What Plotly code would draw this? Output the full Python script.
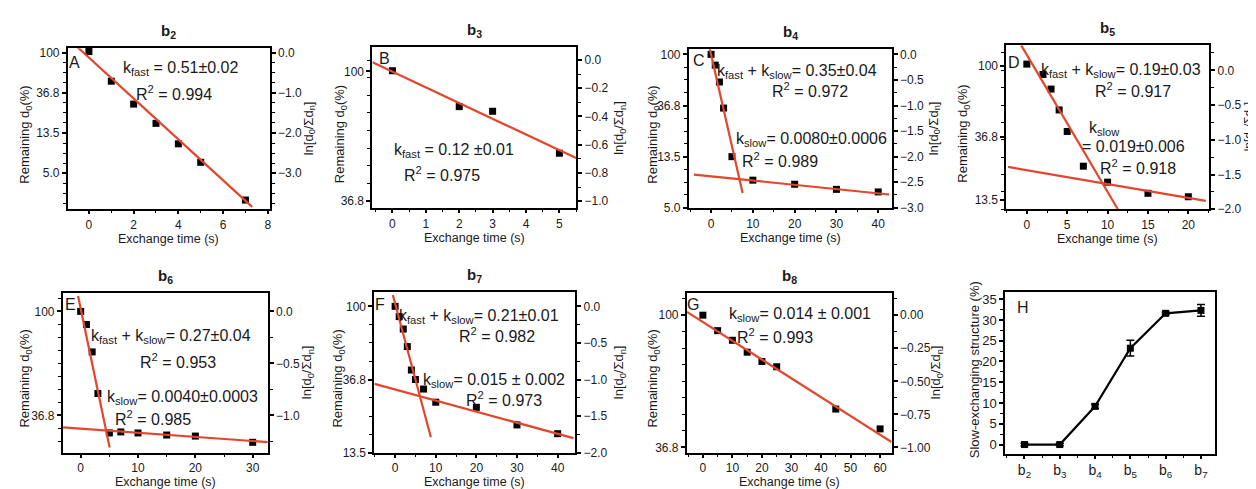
import plotly.graph_objects as go

W, H = 1256, 489

# ---------------- data (ln[d0/Σdn] vs exchange time) ----------------
a_t = [0, 1, 2, 3, 4, 5, 7]
a_ln = [0.03, -0.71, -1.28, -1.76, -2.27, -2.73, -3.67]
a_fit_t = [-0.75, 7.3]
a_fit_ln = [0.26, -3.84]

b_t = [0, 2, 3, 5]
b_ln = [-0.076, -0.33, -0.363, -0.66]
b_fit_t = [-0.6, 5.5]
b_fit_ln = [-0.016, -0.694]

c_t = [0, 1, 2, 3, 5, 10, 20, 30, 40]
c_ln = [0.0, -0.21, -0.54, -1.05, -2.0, -2.46, -2.54, -2.64, -2.69]
c_fast_t = [-0.56, 7.55]
c_fast_ln = [0.2, -2.71]
c_slow_t = [-4.1, 42.6]
c_slow_ln = [-2.35, -2.74]

d_t = [0, 2, 3, 4, 5, 7, 10, 15, 20]
d_ln = [0.09, -0.06, -0.27, -0.57, -0.88, -1.38, -1.61, -1.77, -1.82]
d_fast_t = [-0.69, 11.27]
d_fast_ln = [0.36, -2.0]
d_slow_t = [-2.33, 22.16]
d_slow_ln = [-1.39, -1.88]

e_t = [0, 1, 2, 3, 5, 7, 10, 15, 20, 30]
e_ln = [0.0, -0.126, -0.39, -0.79, -1.17, -1.16, -1.17, -1.19, -1.20, -1.26]
e_fast_t = [-0.46, 5.05]
e_fast_ln = [0.148, -1.31]
e_slow_t = [-3.08, 33.2]
e_slow_ln = [-1.116, -1.26]

f_t = [0, 1, 2, 3, 4, 5, 7, 10, 20, 30, 40]
f_ln = [0.0, -0.14, -0.31, -0.55, -0.87, -1.0, -1.13, -1.31, -1.38, -1.62, -1.74]
f_fast_t = [-0.57, 8.8]
f_fast_ln = [0.155, -1.79]
f_slow_t = [-5.06, 43.9]
f_slow_ln = [-1.06, -1.80]

g_t = [0, 5, 10, 15, 20, 25, 45, 60]
g_ln = [0.0, -0.117, -0.19, -0.28, -0.35, -0.39, -0.71, -0.86]
g_fit_t = [-5.4, 63.9]
g_fit_ln = [0.025, -0.96]

h_cats = ["b<sub>2</sub>", "b<sub>3</sub>", "b<sub>4</sub>", "b<sub>5</sub>", "b<sub>6</sub>", "b<sub>7</sub>"]
h_slow = [0, 0, 9.2, 23.2, 31.6, 32.3]
h_err = [0.3, 0.3, 0.5, 1.9, 0.3, 1.4]

titles = ["b<sub>2</sub>", "b<sub>3</sub>", "b<sub>4</sub>", "b<sub>5</sub>",
          "b<sub>6</sub>", "b<sub>7</sub>", "b<sub>8</sub>"]
left_labels = ["100", "36.8", "13.5", "5.0"]

# ---------------- layout / style ----------------
FONT = "Liberation Sans, Arial, sans-serif"
RED = "#e2462c"
INK = "#1a1a1a"

# frame boxes in pixels: x0, x1, y0(top), y1(bottom)
boxes = [
    (60, 262, 39, 203), (365, 569, 38, 202), (682, 885, 40, 202), (1000, 1203, 36, 203),
    (55, 260, 288, 451), (367, 568, 287, 451), (680, 885, 288, 451), (999, 1209, 287, 452),
]
xranges = [[-0.94, 8.08], [-0.6, 5.5], [-5.3, 43.2], [-2.53, 22.57],
           [-3.1, 32.6], [-5.1, 44.3], [-5.4, 63.9], [-0.54, 5.4]]
yranges = [[-3.9, 0.11], [-1.05, 0.09], [-3.01, 0.1], [-2.0, 0.36],
           [-1.36, 0.18], [-2.0, 0.2], [-1.04, 0.17], [-2.2, 36.8]]
xdt = [2, 1, 10, 5, 10, 10, 10]
left_tickvals = [[0, -1, -2, -3], [-0.08, -1.0], [0, -1, -2, -3], [0.06, -0.96, -1.86],
                 [0, -1], [0, -1, -2], [0, -1]]
left_ticktext = [left_labels[:4], ["100", "36.8"], left_labels[:4], left_labels[:3],
                 ["100", "36.8"], left_labels[:3], ["100", "36.8"]]
right_dt = [1.0, 0.2, 0.5, 0.5, 0.5, 0.5, 0.25]
right_fmt = [".1f", ".1f", ".1f", ".1f", ".1f", ".1f", ".2f"]


def aid(letter, n):
    return letter if n == 1 else "%s%d" % (letter, n)


def px(x, y):
    return x / W, 1 - y / H


fig = go.Figure()
layout = dict(
    width=W, height=H, margin=dict(l=0, r=0, t=0, b=0),
    paper_bgcolor="white", plot_bgcolor="white", showlegend=False,
    font=dict(family=FONT, color=INK, size=12),
)

tickfont = dict(family=FONT, size=12, color=INK)
for i in range(8):
    x0, x1, y0, y1 = boxes[i]
    dx = [x0 / W, x1 / W]
    dy = [1 - y1 / H, 1 - y0 / H]
    n = i + 1
    xa = dict(domain=dx, range=xranges[i], anchor=aid("y", n), showline=True, linecolor="black",
              linewidth=2, mirror=True, ticks="outside", ticklen=3, tickwidth=1.5,
              tickcolor="black", showgrid=False, zeroline=False, tickfont=tickfont)
    ya = dict(domain=dy, range=yranges[i], anchor=aid("x", n), showline=True, linecolor="black",
              linewidth=2, ticks="outside", ticklen=4, tickwidth=1.5, tickcolor="black",
              showgrid=False, zeroline=False, tickfont=tickfont)
    if i < 7:
        xa.update(tickmode="linear", tick0=0, dtick=xdt[i],
                  minor=dict(tickmode="linear", tick0=0, dtick=xdt[i] / 2, ticks="outside",
                             ticklen=2, tickcolor="black", tickwidth=1.2))
        ya.update(tickmode="array", tickvals=left_tickvals[i], ticktext=left_ticktext[i],
                  minor=dict(tickmode="linear", tick0=0, dtick=0.125 if i in (1, 4, 6) else 0.25,
                             ticks="outside", ticklen=3, tickcolor="black", tickwidth=1.2))
        ra = dict(overlaying=aid("y", n), side="right", range=yranges[i], anchor=aid("x", n),
                  showline=True, linecolor="black", linewidth=2, ticks="outside", ticklen=4,
                  tickwidth=1.5, tickcolor="black", showgrid=False, zeroline=False,
                  tickmode="linear", tick0=0, dtick=right_dt[i], tickformat=right_fmt[i],
                  tickfont=tickfont,
                  minor=dict(tickmode="linear", tick0=0,
                             dtick=right_dt[i] / 4 if i == 0 else right_dt[i] / 2,
                             ticks="outside", ticklen=3, tickcolor="black", tickwidth=1.2))
        layout["yaxis%d" % (9 + i)] = ra
    else:
        xa.update(tickmode="array", tickvals=list(range(len(h_cats))), ticktext=h_cats,
                  minor=dict(tickmode="linear", tick0=0.5, dtick=1, ticks="outside",
                             ticklen=2, tickcolor="black", tickwidth=1.2),
                  tickfont=dict(family=FONT, size=14, color=INK))
        ya.update(tickmode="linear", tick0=0, dtick=5, mirror=True,
                  tickfont=dict(family=FONT, size=13, color=INK),
                  minor=dict(tickmode="linear", tick0=0, dtick=2.5, ticks="outside",
                             ticklen=3, tickcolor="black", tickwidth=1.2))
    layout["xaxis%d" % n] = xa
    layout["yaxis%d" % n] = ya

fig.update_layout(**layout)

marker = dict(symbol="square", size=7, color="black")
panels = [
    (a_t, a_ln, [(a_fit_t, a_fit_ln)]),
    (b_t, b_ln, [(b_fit_t, b_fit_ln)]),
    (c_t, c_ln, [(c_fast_t, c_fast_ln), (c_slow_t, c_slow_ln)]),
    (d_t, d_ln, [(d_fast_t, d_fast_ln), (d_slow_t, d_slow_ln)]),
    (e_t, e_ln, [(e_fast_t, e_fast_ln), (e_slow_t, e_slow_ln)]),
    (f_t, f_ln, [(f_fast_t, f_fast_ln), (f_slow_t, f_slow_ln)]),
    (g_t, g_ln, [(g_fit_t, g_fit_ln)]),
]
for i, (tt, yy, fits) in enumerate(panels):
    n = i + 1
    fig.add_trace(go.Scatter(x=tt, y=yy, mode="markers", marker=marker,
                             xaxis=aid("x", n), yaxis=aid("y", n), cliponaxis=False))
    for ft, fy in fits:
        fig.add_trace(go.Scatter(x=ft, y=fy, mode="lines", line=dict(color=RED, width=2.2),
                                 xaxis=aid("x", n), yaxis=aid("y", n)))
    # invisible trace so the right-hand ln axis is drawn
    fig.add_trace(go.Scatter(x=[None], y=[None], mode="markers", showlegend=False,
                             hoverinfo="skip", xaxis=aid("x", n), yaxis="y%d" % (9 + i)))

fig.add_trace(go.Scatter(x=list(range(len(h_cats))), y=h_slow, mode="lines+markers",
                         line=dict(color="black", width=2.2),
                         marker=dict(symbol="square", size=7, color="black"),
                         error_y=dict(type="data", array=h_err, color="black", thickness=1.5, width=4),
                         xaxis="x8", yaxis="y8", cliponaxis=False))

ann = []


def text(x, y, s, size=16, xanchor="center", angle=0, bold=False):
    xf, yf = px(x, y)
    if bold:
        s = "<b>" + s + "</b>"
    ann.append(dict(x=xf, y=yf, xref="paper", yref="paper", text=s, showarrow=False,
                    xanchor=xanchor, yanchor="middle", textangle=angle,
                    font=dict(family=FONT, size=size, color=INK)))


# titles
for i in range(7):
    x0, x1, y0, y1 = boxes[i]
    text((x0 + x1) / 2, y0 - 17, titles[i], size=15, bold=True)

# axis titles
left_title = "Remaining d<sub>0</sub>(%)"
right_title = "ln[d<sub>0</sub>/Σd<sub>n</sub>]"
left_x = [18, 333, 647, 957, 18, 331, 647]
right_x = [302, 613, 928, 1244, 300, 612, 930]
for i in range(7):
    x0, x1, y0, y1 = boxes[i]
    cy = (y0 + y1) / 2
    text(left_x[i], cy + 6, left_title, size=13, angle=-90)
    text(right_x[i], cy, right_title, size=13 if i != 3 else 12, angle=-90)
    text((x0 + x1) / 2, y1 + 30, "Exchange time (s)", size=12.5)
x0, x1, y0, y1 = boxes[7]
text(968, (y0 + y1) / 2 - 3, "Slow-exchanging structure (%)", size=13, angle=-90)

# panel letters
letters = [("A", 67, 53), ("B", 377, 49), ("C", 692, 51), ("D", 1008, 53),
           ("E", 63, 300), ("F", 373, 300), ("G", 686, 300), ("H", 1017, 303)]
for s, x, y in letters:
    text(x, y, s, size=16)

# fit labels
KF = "k<sub>fast</sub>"
KS = "k<sub>slow</sub>"
labels = [
    (f"{KF} = 0.51±0.02", 173, 60), ("R<sup>2</sup> = 0.994", 166, 85),
    (f"{KF} = 0.12 ±0.01", 447, 143), ("R<sup>2</sup> = 0.975", 435, 167),
    (f"{KF} + {KS}= 0.35±0.04", 790, 63), ("R<sup>2</sup> = 0.972", 803, 82),
    (f"{KS}= 0.0080±0.0006", 805, 132), ("R<sup>2</sup> = 0.989", 773, 153),
    (f"{KF} + {KS}= 0.19±0.03", 1115, 62), ("R<sup>2</sup> = 0.917", 1127, 81),
    (KS, 1098, 121), ("= 0.019±0.006", 1127, 139), ("R<sup>2</sup> = 0.918", 1132, 160),
    (f"{KF} + {KS}= 0.27±0.04", 163, 333), ("R<sup>2</sup> = 0.953", 170, 358),
    (f"{KS}= 0.0040±0.0003", 175, 395), ("R<sup>2</sup> = 0.985", 145, 416),
    (f"{KF} + {KS}= 0.21±0.01", 472, 312), ("R<sup>2</sup> = 0.982", 490, 331),
    (f"{KS}= 0.015 ± 0.002", 487, 377), ("R<sup>2</sup> = 0.973", 497, 396),
    (f"{KS}= 0.014 ± 0.001", 793, 310), ("R<sup>2</sup> = 0.993", 768, 332),
]
for s, x, y in labels:
    text(x, y, s, size=16)

fig.update_layout(annotations=ann)
fig.write_html("out.html")
